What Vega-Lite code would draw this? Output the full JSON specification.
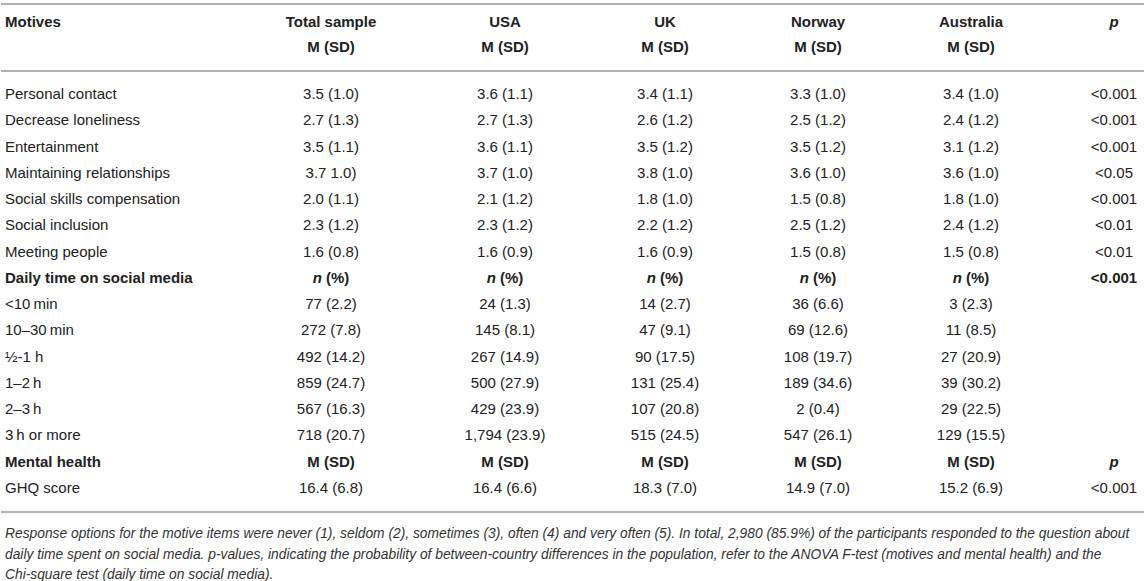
{
  "$schema": "https://vega.github.io/schema/vega-lite/v6.json",
  "width": 1145,
  "height": 581,
  "autosize": {"type": "fit", "contains": "padding"},
  "padding": 0,
  "background": "white",
  "config": {"view": {"stroke": null}, "text": {"font": "Liberation Sans", "fontSize": 15, "color": "#222222", "baseline": "middle"}},
  "datasets": {
    "cells": [
      {"row": 0, "col": 0, "text": "Motives", "kind": "labB"},
      {"row": 0, "col": 1, "text": "Total sample", "kind": "valB"},
      {"row": 0, "col": 2, "text": "USA", "kind": "valB"},
      {"row": 0, "col": 3, "text": "UK", "kind": "valB"},
      {"row": 0, "col": 4, "text": "Norway", "kind": "valB"},
      {"row": 0, "col": 5, "text": "Australia", "kind": "valB"},
      {"row": 0, "col": 6, "text": "p", "kind": "valBI"},
      {"row": 1, "col": 1, "text": "M (SD)", "kind": "valB"},
      {"row": 1, "col": 2, "text": "M (SD)", "kind": "valB"},
      {"row": 1, "col": 3, "text": "M (SD)", "kind": "valB"},
      {"row": 1, "col": 4, "text": "M (SD)", "kind": "valB"},
      {"row": 1, "col": 5, "text": "M (SD)", "kind": "valB"},

      {"row": 2, "col": 0, "text": "Personal contact", "kind": "lab"},
      {"row": 2, "col": 1, "text": "3.5 (1.0)", "kind": "val"},
      {"row": 2, "col": 2, "text": "3.6 (1.1)", "kind": "val"},
      {"row": 2, "col": 3, "text": "3.4 (1.1)", "kind": "val"},
      {"row": 2, "col": 4, "text": "3.3 (1.0)", "kind": "val"},
      {"row": 2, "col": 5, "text": "3.4 (1.0)", "kind": "val"},
      {"row": 2, "col": 6, "text": "<0.001", "kind": "val"},

      {"row": 3, "col": 0, "text": "Decrease loneliness", "kind": "lab"},
      {"row": 3, "col": 1, "text": "2.7 (1.3)", "kind": "val"},
      {"row": 3, "col": 2, "text": "2.7 (1.3)", "kind": "val"},
      {"row": 3, "col": 3, "text": "2.6 (1.2)", "kind": "val"},
      {"row": 3, "col": 4, "text": "2.5 (1.2)", "kind": "val"},
      {"row": 3, "col": 5, "text": "2.4 (1.2)", "kind": "val"},
      {"row": 3, "col": 6, "text": "<0.001", "kind": "val"},

      {"row": 4, "col": 0, "text": "Entertainment", "kind": "lab"},
      {"row": 4, "col": 1, "text": "3.5 (1.1)", "kind": "val"},
      {"row": 4, "col": 2, "text": "3.6 (1.1)", "kind": "val"},
      {"row": 4, "col": 3, "text": "3.5 (1.2)", "kind": "val"},
      {"row": 4, "col": 4, "text": "3.5 (1.2)", "kind": "val"},
      {"row": 4, "col": 5, "text": "3.1 (1.2)", "kind": "val"},
      {"row": 4, "col": 6, "text": "<0.001", "kind": "val"},

      {"row": 5, "col": 0, "text": "Maintaining relationships", "kind": "lab"},
      {"row": 5, "col": 1, "text": "3.7 1.0)", "kind": "val"},
      {"row": 5, "col": 2, "text": "3.7 (1.0)", "kind": "val"},
      {"row": 5, "col": 3, "text": "3.8 (1.0)", "kind": "val"},
      {"row": 5, "col": 4, "text": "3.6 (1.0)", "kind": "val"},
      {"row": 5, "col": 5, "text": "3.6 (1.0)", "kind": "val"},
      {"row": 5, "col": 6, "text": "<0.05", "kind": "val"},

      {"row": 6, "col": 0, "text": "Social skills compensation", "kind": "lab"},
      {"row": 6, "col": 1, "text": "2.0 (1.1)", "kind": "val"},
      {"row": 6, "col": 2, "text": "2.1 (1.2)", "kind": "val"},
      {"row": 6, "col": 3, "text": "1.8 (1.0)", "kind": "val"},
      {"row": 6, "col": 4, "text": "1.5 (0.8)", "kind": "val"},
      {"row": 6, "col": 5, "text": "1.8 (1.0)", "kind": "val"},
      {"row": 6, "col": 6, "text": "<0.001", "kind": "val"},

      {"row": 7, "col": 0, "text": "Social inclusion", "kind": "lab"},
      {"row": 7, "col": 1, "text": "2.3 (1.2)", "kind": "val"},
      {"row": 7, "col": 2, "text": "2.3 (1.2)", "kind": "val"},
      {"row": 7, "col": 3, "text": "2.2 (1.2)", "kind": "val"},
      {"row": 7, "col": 4, "text": "2.5 (1.2)", "kind": "val"},
      {"row": 7, "col": 5, "text": "2.4 (1.2)", "kind": "val"},
      {"row": 7, "col": 6, "text": "<0.01", "kind": "val"},

      {"row": 8, "col": 0, "text": "Meeting people", "kind": "lab"},
      {"row": 8, "col": 1, "text": "1.6 (0.8)", "kind": "val"},
      {"row": 8, "col": 2, "text": "1.6 (0.9)", "kind": "val"},
      {"row": 8, "col": 3, "text": "1.6 (0.9)", "kind": "val"},
      {"row": 8, "col": 4, "text": "1.5 (0.8)", "kind": "val"},
      {"row": 8, "col": 5, "text": "1.5 (0.8)", "kind": "val"},
      {"row": 8, "col": 6, "text": "<0.01", "kind": "val"},

      {"row": 9, "col": 0, "text": "Daily time on social media", "kind": "labB"},
      {"row": 9, "col": 1, "text": "n", "kind": "nI"},
      {"row": 9, "col": 2, "text": "n", "kind": "nI"},
      {"row": 9, "col": 3, "text": "n", "kind": "nI"},
      {"row": 9, "col": 4, "text": "n", "kind": "nI"},
      {"row": 9, "col": 5, "text": "n", "kind": "nI"},
      {"row": 9, "col": 1, "text": "(%)", "kind": "nP"},
      {"row": 9, "col": 2, "text": "(%)", "kind": "nP"},
      {"row": 9, "col": 3, "text": "(%)", "kind": "nP"},
      {"row": 9, "col": 4, "text": "(%)", "kind": "nP"},
      {"row": 9, "col": 5, "text": "(%)", "kind": "nP"},
      {"row": 9, "col": 6, "text": "<0.001", "kind": "valB"},

      {"row": 10, "col": 0, "text": "<10\u2009min", "kind": "lab"},
      {"row": 10, "col": 1, "text": "77 (2.2)", "kind": "val"},
      {"row": 10, "col": 2, "text": "24 (1.3)", "kind": "val"},
      {"row": 10, "col": 3, "text": "14 (2.7)", "kind": "val"},
      {"row": 10, "col": 4, "text": "36 (6.6)", "kind": "val"},
      {"row": 10, "col": 5, "text": "3 (2.3)", "kind": "val"},

      {"row": 11, "col": 0, "text": "10\u201330\u2009min", "kind": "lab"},
      {"row": 11, "col": 1, "text": "272 (7.8)", "kind": "val"},
      {"row": 11, "col": 2, "text": "145 (8.1)", "kind": "val"},
      {"row": 11, "col": 3, "text": "47 (9.1)", "kind": "val"},
      {"row": 11, "col": 4, "text": "69 (12.6)", "kind": "val"},
      {"row": 11, "col": 5, "text": "11 (8.5)", "kind": "val"},

      {"row": 12, "col": 0, "text": "\u00bd-1 h", "kind": "lab"},
      {"row": 12, "col": 1, "text": "492 (14.2)", "kind": "val"},
      {"row": 12, "col": 2, "text": "267 (14.9)", "kind": "val"},
      {"row": 12, "col": 3, "text": "90 (17.5)", "kind": "val"},
      {"row": 12, "col": 4, "text": "108 (19.7)", "kind": "val"},
      {"row": 12, "col": 5, "text": "27 (20.9)", "kind": "val"},

      {"row": 13, "col": 0, "text": "1\u20132\u2009h", "kind": "lab"},
      {"row": 13, "col": 1, "text": "859 (24.7)", "kind": "val"},
      {"row": 13, "col": 2, "text": "500 (27.9)", "kind": "val"},
      {"row": 13, "col": 3, "text": "131 (25.4)", "kind": "val"},
      {"row": 13, "col": 4, "text": "189 (34.6)", "kind": "val"},
      {"row": 13, "col": 5, "text": "39 (30.2)", "kind": "val"},

      {"row": 14, "col": 0, "text": "2\u20133\u2009h", "kind": "lab"},
      {"row": 14, "col": 1, "text": "567 (16.3)", "kind": "val"},
      {"row": 14, "col": 2, "text": "429 (23.9)", "kind": "val"},
      {"row": 14, "col": 3, "text": "107 (20.8)", "kind": "val"},
      {"row": 14, "col": 4, "text": "2 (0.4)", "kind": "val"},
      {"row": 14, "col": 5, "text": "29 (22.5)", "kind": "val"},

      {"row": 15, "col": 0, "text": "3\u2009h or more", "kind": "lab"},
      {"row": 15, "col": 1, "text": "718 (20.7)", "kind": "val"},
      {"row": 15, "col": 2, "text": "1,794 (23.9)", "kind": "val"},
      {"row": 15, "col": 3, "text": "515 (24.5)", "kind": "val"},
      {"row": 15, "col": 4, "text": "547 (26.1)", "kind": "val"},
      {"row": 15, "col": 5, "text": "129 (15.5)", "kind": "val"},

      {"row": 16, "col": 0, "text": "Mental health", "kind": "labB"},
      {"row": 16, "col": 1, "text": "M (SD)", "kind": "valB"},
      {"row": 16, "col": 2, "text": "M (SD)", "kind": "valB"},
      {"row": 16, "col": 3, "text": "M (SD)", "kind": "valB"},
      {"row": 16, "col": 4, "text": "M (SD)", "kind": "valB"},
      {"row": 16, "col": 5, "text": "M (SD)", "kind": "valB"},
      {"row": 16, "col": 6, "text": "p", "kind": "valBI"},

      {"row": 17, "col": 0, "text": "GHQ score", "kind": "lab"},
      {"row": 17, "col": 1, "text": "16.4 (6.8)", "kind": "val"},
      {"row": 17, "col": 2, "text": "16.4 (6.6)", "kind": "val"},
      {"row": 17, "col": 3, "text": "18.3 (7.0)", "kind": "val"},
      {"row": 17, "col": 4, "text": "14.9 (7.0)", "kind": "val"},
      {"row": 17, "col": 5, "text": "15.2 (6.9)", "kind": "val"},
      {"row": 17, "col": 6, "text": "<0.001", "kind": "val"},

      {"row": 18, "col": 0, "text": "Response options for the motive items were never (1), seldom (2), sometimes (3), often (4) and very often (5). In total, 2,980 (85.9%) of the participants responded to the question about", "kind": "note"},
      {"row": 19, "col": 0, "text": "daily time spent on social media. p-values, indicating the probability of between-country differences in the population, refer to the ANOVA F-test (motives and mental health) and the", "kind": "note"},
      {"row": 20, "col": 0, "text": "Chi-square test (daily time on social media).", "kind": "note"}
    ],
    "rules": [{"row": -1}, {"row": 1.5}, {"row": 17.5}]
  },
  "encoding": {
    "y": {"field": "row", "type": "quantitative", "axis": null,
          "scale": {"domain": [-1, 0, 1, 1.5, 2, 17, 17.5, 18, 20], "range": [4, 22, 47, 71, 94, 488, 512, 534, 575], "nice": false, "zero": false}}
  },
  "layer": [
    {
      "data": {"name": "rules"},
      "mark": {"type": "rule", "color": "#b3b3b3", "strokeWidth": 2},
      "encoding": {}
    },
    {
      "data": {"name": "cells"},
      "transform": [{"filter": "datum.kind === 'lab'"}],
      "mark": {"type": "text", "align": "left"},
      "encoding": {
        "x": {"field": "col", "type": "quantitative", "axis": null, "scale": {"domain": [0, 1, 2, 3, 4, 5, 6], "range": [4, 330, 504, 664, 817, 970, 1113], "nice": false, "zero": false}},
        "text": {"field": "text"}
      }
    },
    {
      "data": {"name": "cells"},
      "transform": [{"filter": "datum.kind === 'labB'"}],
      "mark": {"type": "text", "align": "left", "fontWeight": "bold"},
      "encoding": {
        "x": {"field": "col", "type": "quantitative", "axis": null, "scale": {"domain": [0, 1, 2, 3, 4, 5, 6], "range": [4, 330, 504, 664, 817, 970, 1113], "nice": false, "zero": false}},
        "text": {"field": "text"}
      }
    },
    {
      "data": {"name": "cells"},
      "transform": [{"filter": "datum.kind === 'val'"}],
      "mark": {"type": "text", "align": "center"},
      "encoding": {
        "x": {"field": "col", "type": "quantitative", "axis": null, "scale": {"domain": [0, 1, 2, 3, 4, 5, 6], "range": [4, 330, 504, 664, 817, 970, 1113], "nice": false, "zero": false}},
        "text": {"field": "text"}
      }
    },
    {
      "data": {"name": "cells"},
      "transform": [{"filter": "datum.kind === 'valB'"}],
      "mark": {"type": "text", "align": "center", "fontWeight": "bold"},
      "encoding": {
        "x": {"field": "col", "type": "quantitative", "axis": null, "scale": {"domain": [0, 1, 2, 3, 4, 5, 6], "range": [4, 330, 504, 664, 817, 970, 1113], "nice": false, "zero": false}},
        "text": {"field": "text"}
      }
    },
    {
      "data": {"name": "cells"},
      "transform": [{"filter": "datum.kind === 'valBI'"}],
      "mark": {"type": "text", "align": "center", "fontWeight": "bold", "fontStyle": "italic"},
      "encoding": {
        "x": {"field": "col", "type": "quantitative", "axis": null, "scale": {"domain": [0, 1, 2, 3, 4, 5, 6], "range": [4, 330, 504, 664, 817, 970, 1113], "nice": false, "zero": false}},
        "text": {"field": "text"}
      }
    },
    {
      "data": {"name": "cells"},
      "transform": [{"filter": "datum.kind === 'nI'"}],
      "mark": {"type": "text", "align": "right", "dx": -9, "fontWeight": "bold", "fontStyle": "italic"},
      "encoding": {
        "x": {"field": "col", "type": "quantitative", "axis": null, "scale": {"domain": [0, 1, 2, 3, 4, 5, 6], "range": [4, 330, 504, 664, 817, 970, 1113], "nice": false, "zero": false}},
        "text": {"field": "text"}
      }
    },
    {
      "data": {"name": "cells"},
      "transform": [{"filter": "datum.kind === 'nP'"}],
      "mark": {"type": "text", "align": "left", "dx": -5, "fontWeight": "bold"},
      "encoding": {
        "x": {"field": "col", "type": "quantitative", "axis": null, "scale": {"domain": [0, 1, 2, 3, 4, 5, 6], "range": [4, 330, 504, 664, 817, 970, 1113], "nice": false, "zero": false}},
        "text": {"field": "text"}
      }
    },
    {
      "data": {"name": "cells"},
      "transform": [{"filter": "datum.kind === 'note'"}],
      "mark": {"type": "text", "align": "left", "fontStyle": "italic", "fontSize": 13.8, "color": "#333333"},
      "encoding": {
        "x": {"field": "col", "type": "quantitative", "axis": null, "scale": {"domain": [0, 1, 2, 3, 4, 5, 6], "range": [4, 330, 504, 664, 817, 970, 1113], "nice": false, "zero": false}},
        "text": {"field": "text"}
      }
    }
  ]
}
